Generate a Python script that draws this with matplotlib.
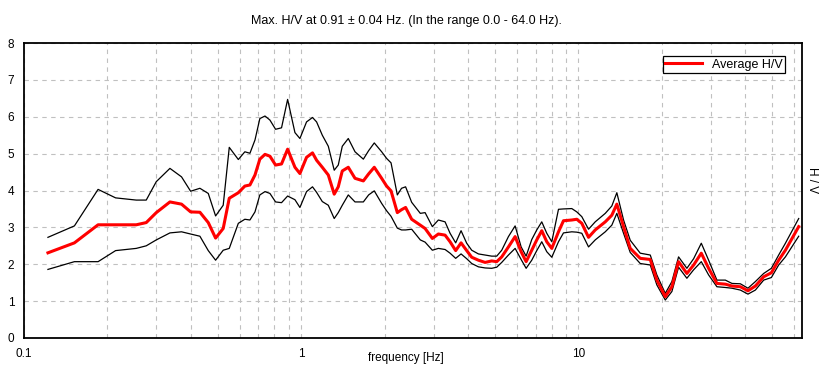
import numpy as np
import matplotlib
matplotlib.use("Agg")
import matplotlib.pyplot as plt
from matplotlib.ticker import LogLocator, FixedLocator, NullFormatter

# frequencies [Hz]
freq = [0.122, 0.152, 0.185, 0.214, 0.254, 0.276, 0.300, 0.336, 0.370, 0.399,
        0.431, 0.462, 0.491, 0.523, 0.550, 0.593, 0.626, 0.653, 0.681, 0.709,
        0.740, 0.771, 0.808, 0.849, 0.893, 0.949, 0.989, 1.045, 1.098, 1.136,
        1.191, 1.252, 1.315, 1.360, 1.406, 1.478, 1.563, 1.675, 1.750, 1.834,
        1.950, 2.032, 2.108, 2.221, 2.300, 2.379, 2.502, 2.688, 2.797, 2.971,
        3.123, 3.302, 3.442, 3.606, 3.771, 3.952, 4.120, 4.355, 4.604, 4.864,
        5.071, 5.286, 5.589, 5.908, 6.210, 6.474, 6.783, 7.071, 7.371, 7.684,
        8.011, 8.469, 8.828, 9.459, 9.860, 10.28, 10.87, 11.49, 12.49, 13.19,
        13.75, 14.54, 15.37, 16.70, 18.15, 19.17, 20.56, 21.72, 22.96, 24.60,
        26.02, 27.73, 29.47, 31.57, 33.86, 35.77, 38.36, 40.86, 43.45, 46.55,
        49.63, 52.73, 55.76, 62.27]

hv_avg = [2.31, 2.58, 3.07, 3.07, 3.07, 3.13, 3.40, 3.69, 3.63, 3.42,
          3.41, 3.13, 2.71, 2.97, 3.79, 3.94, 4.12, 4.15, 4.42, 4.85,
          4.98, 4.93, 4.69, 4.72, 5.12, 4.63, 4.46, 4.90, 5.02, 4.82,
          4.63, 4.42, 3.90, 4.10, 4.53, 4.63, 4.33, 4.26, 4.45, 4.63,
          4.33, 4.12, 3.99, 3.40, 3.48, 3.54, 3.22, 3.06, 2.97, 2.70,
          2.82, 2.79, 2.61, 2.37, 2.58, 2.37, 2.19, 2.11, 2.05, 2.09,
          2.07, 2.20, 2.47, 2.75, 2.34, 2.07, 2.38, 2.66, 2.91, 2.61,
          2.43, 2.88, 3.18, 3.20, 3.22, 3.11, 2.73, 2.93, 3.15, 3.33,
          3.63, 3.02, 2.43, 2.16, 2.13, 1.57, 1.12, 1.39, 2.07, 1.75,
          1.98, 2.30, 1.89, 1.48, 1.46, 1.41, 1.39, 1.28, 1.41, 1.66,
          1.77, 2.11, 2.38, 3.02]

hv_max = [2.73, 3.04, 4.03, 3.80, 3.74, 3.74, 4.24, 4.60, 4.37, 3.98,
          4.06, 3.92, 3.31, 3.60, 5.17, 4.84, 5.05, 5.01, 5.37, 5.95,
          6.02, 5.91, 5.66, 5.70, 6.47, 5.57, 5.41, 5.86, 5.98, 5.86,
          5.50, 5.20, 4.55, 4.69, 5.20, 5.41, 5.05, 4.85, 5.08, 5.29,
          5.05, 4.87, 4.75, 3.88, 4.06, 4.10, 3.68, 3.38, 3.40, 3.02,
          3.20, 3.15, 2.84, 2.58, 2.91, 2.57, 2.38, 2.28, 2.25, 2.22,
          2.22, 2.38, 2.75, 3.04, 2.47, 2.22, 2.67, 2.93, 3.15, 2.84,
          2.61, 3.49, 3.50, 3.51, 3.42, 3.29, 2.95, 3.15, 3.38, 3.58,
          3.94, 3.20, 2.65, 2.30, 2.25, 1.71, 1.21, 1.53, 2.20, 1.89,
          2.15, 2.57, 2.11, 1.57, 1.57, 1.48, 1.47, 1.35, 1.53, 1.75,
          1.89, 2.25, 2.57, 3.24]

hv_min = [1.86, 2.07, 2.07, 2.37, 2.43, 2.50, 2.66, 2.85, 2.88, 2.82,
          2.76, 2.37, 2.11, 2.38, 2.43, 3.11, 3.22, 3.20, 3.42, 3.88,
          3.97, 3.92, 3.69, 3.67, 3.85, 3.75, 3.54, 3.97, 4.10, 3.95,
          3.70, 3.60, 3.24, 3.40, 3.60, 3.88, 3.69, 3.69, 3.88, 3.99,
          3.65, 3.45, 3.30, 2.98, 2.93, 2.93, 2.95, 2.66, 2.60, 2.38,
          2.43, 2.40, 2.30, 2.16, 2.28, 2.15, 2.02, 1.93, 1.90, 1.89,
          1.92, 2.05, 2.25, 2.43, 2.13, 1.89, 2.11, 2.37, 2.61, 2.34,
          2.19, 2.61, 2.85, 2.88, 2.87, 2.84, 2.47, 2.66, 2.88, 3.06,
          3.38, 2.84, 2.32, 2.02, 1.98, 1.44, 1.03, 1.26, 1.92, 1.62,
          1.85, 2.07, 1.71, 1.39, 1.37, 1.35, 1.30, 1.19, 1.30, 1.57,
          1.64, 1.98, 2.20, 2.76]

title = "Max. H/V at 0.91 \u00b1 0.04 Hz. (In the range 0.0 - 64.0 Hz)."

plt.rcParams['font.family'] = ['Liberation Sans', 'DejaVu Sans']
plt.rcParams['font.size'] = 8.5

fig = plt.figure(figsize=(8.26, 3.81), dpi=100)
ax = fig.add_axes([24/826, 1-338/381, (802-24)/826, (338-43)/381])

ax.plot(freq, hv_max, color='black', lw=0.9)
ax.plot(freq, hv_min, color='black', lw=0.9)
ax.plot(freq, hv_avg, color='red', lw=2.2, label='Average H/V')

ax.set_xscale('log')
ax.set_xlim(0.1, 64)
ax.set_ylim(0, 8)
ax.xaxis.set_major_locator(FixedLocator([0.1, 1, 10]))
ax.set_xticklabels(['0.1', '1', '10'])
ax.xaxis.set_minor_locator(LogLocator(base=10, subs=np.arange(2, 10)))
ax.xaxis.set_minor_formatter(NullFormatter())
ax.set_yticks(range(0, 9))

ax.grid(True, which='both', axis='x', color='#c0c0c0', ls=(0, (4, 4)), lw=0.8)
ax.grid(True, which='major', axis='y', color='#c0c0c0', ls=(0, (4, 4)), lw=0.8)
ax.tick_params(axis='x', which='both', length=0, pad=7)
ax.tick_params(axis='y', which='both', length=0, pad=7)
for s in ax.spines.values():
    s.set_linewidth(1.3)

leg = ax.legend(loc='upper right', bbox_to_anchor=(0.978, 0.955), fancybox=False,
                framealpha=1, edgecolor='black', borderpad=0.2, handlelength=2.9,
                handletextpad=0.8, borderaxespad=0, fontsize=9)
leg.get_frame().set_linewidth(0.9)

fig.text(406/826, 1-21/381, title, ha='center', va='center', fontsize=9)
fig.text(406/826, 1-358/381, 'frequency [Hz]', ha='center', va='center', fontsize=8.5)
fig.text(812/826, 1-180/381, 'H / V', ha='center', va='center', rotation=270, fontsize=8.5)

fig.savefig('out.png', dpi=100)
